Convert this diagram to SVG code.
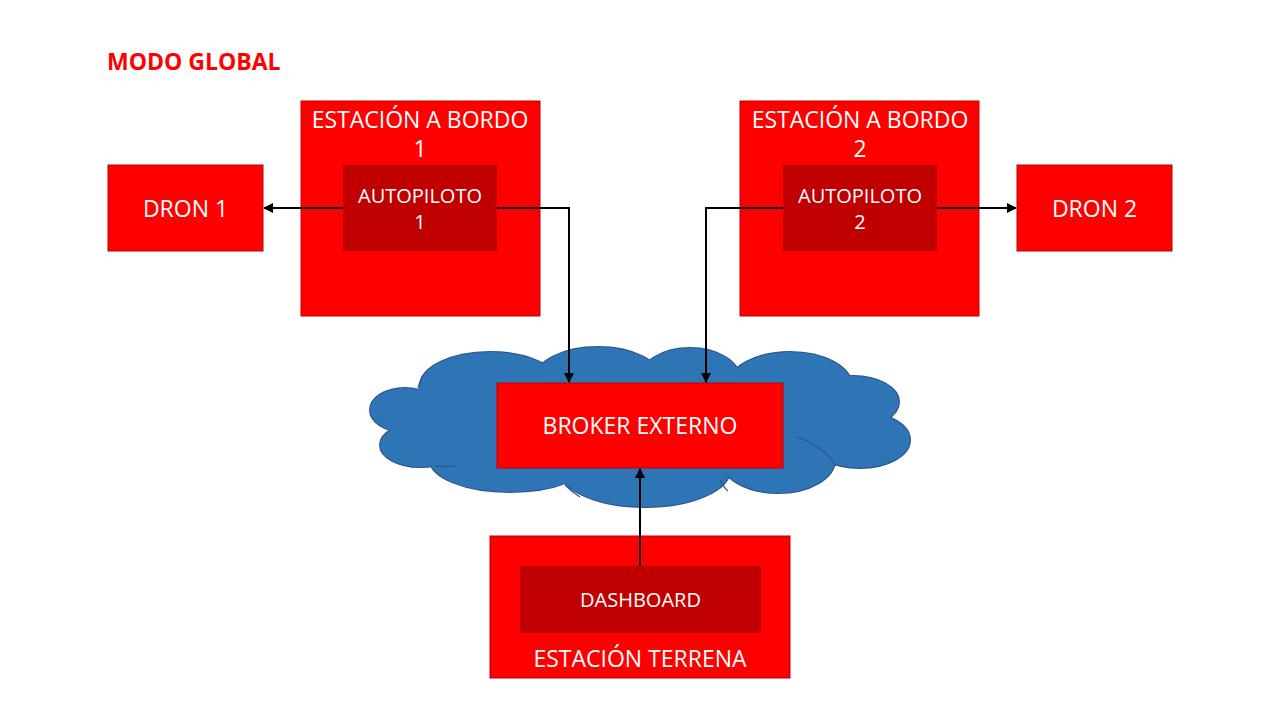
<svg xmlns="http://www.w3.org/2000/svg" width="1280" height="720" viewBox="0 0 1280 720">
<defs>
<style>
.box{fill:#FF0000;stroke:#C00000;stroke-width:1}
.inner{fill:#C00000;stroke:none}
.t{font-family:"Open Sans","Noto Sans",sans-serif;fill:#FFFFFF;text-anchor:middle}
.big{font-size:23px}
.mid{font-size:20px}
.conn{fill:none;stroke:#000000;stroke-width:2}
.cs{fill:#2E75B6;stroke:#2F528F;stroke-width:2}
.cf{fill:#2E75B6;stroke:none}
.ci{fill:none;stroke:#2F528F;stroke-width:1.2}
</style>
<marker id="arr" viewBox="0 0 10 10" refX="9" refY="5" markerWidth="5" markerHeight="5" orient="auto" markerUnits="strokeWidth">
<path d="M0,0 L10,5 L0,10 z" fill="#000000"/>
</marker>
</defs>
<rect width="1280" height="720" fill="#FFFFFF"/>
<text x="107" y="70" font-family="'Open Sans','Noto Sans',sans-serif" font-size="23" font-weight="bold" fill="#FF0000">MODO GLOBAL</text>

<g id="cloud">
<g>
<ellipse class="cs" cx="405" cy="410" rx="35" ry="22"/>
<ellipse class="cs" cx="490" cy="386" rx="70" ry="34"/>
<ellipse class="cs" cx="598" cy="379" rx="63" ry="32"/>
<ellipse class="cs" cx="690" cy="379" rx="50" ry="31"/>
<ellipse class="cs" cx="790" cy="386" rx="62" ry="34"/>
<ellipse class="cs" cx="853" cy="402" rx="46" ry="26"/>
<ellipse class="cs" cx="860" cy="440" rx="50" ry="28"/>
<ellipse class="cs" cx="778" cy="460" rx="57" ry="33"/>
<ellipse class="cs" cx="645" cy="470" rx="85" ry="37"/>
<ellipse class="cs" cx="510" cy="460" rx="80" ry="32"/>
<ellipse class="cs" cx="420" cy="445" rx="40" ry="22"/>
</g>
<g>
<ellipse class="cf" cx="405" cy="410" rx="35" ry="22"/>
<ellipse class="cf" cx="490" cy="386" rx="70" ry="34"/>
<ellipse class="cf" cx="598" cy="379" rx="63" ry="32"/>
<ellipse class="cf" cx="690" cy="379" rx="50" ry="31"/>
<ellipse class="cf" cx="790" cy="386" rx="62" ry="34"/>
<ellipse class="cf" cx="853" cy="402" rx="46" ry="26"/>
<ellipse class="cf" cx="860" cy="440" rx="50" ry="28"/>
<ellipse class="cf" cx="778" cy="460" rx="57" ry="33"/>
<ellipse class="cf" cx="645" cy="470" rx="85" ry="37"/>
<ellipse class="cf" cx="510" cy="460" rx="80" ry="32"/>
<ellipse class="cf" cx="420" cy="445" rx="40" ry="22"/>
<ellipse class="cf" cx="640" cy="425" rx="215" ry="48"/>
</g>
<path class="ci" d="M418,388 Q420,380 424,375"/>
<path class="ci" d="M797,437 Q825,447 836,466"/>
<path class="ci" d="M435,466 Q445,467 455,466"/>
<path class="ci" d="M565,485 Q572,492 580,497"/>
<path class="ci" d="M720,480 Q724,488 728,491"/>
</g>

<g id="estacion1">
<rect class="box" x="301" y="101" width="239" height="215"/>
<text class="t big" x="420" y="128">ESTACIÓN A BORDO</text>
<text class="t big" x="420" y="157">1</text>
</g>
<g id="autopiloto1">
<rect class="inner" x="343" y="165" width="154" height="86"/>
<text class="t mid" x="420" y="203">AUTOPILOTO</text>
<text class="t mid" x="420" y="229">1</text>
</g>
<g id="dron1">
<rect class="box" x="108" y="165" width="155" height="86"/>
<text class="t big" x="185.5" y="217">DRON 1</text>
</g>

<g id="estacion2">
<rect class="box" x="740" y="101" width="239" height="215"/>
<text class="t big" x="860" y="128">ESTACIÓN A BORDO</text>
<text class="t big" x="860" y="157">2</text>
</g>
<g id="autopiloto2">
<rect class="inner" x="783" y="165" width="154" height="86"/>
<text class="t mid" x="860" y="203">AUTOPILOTO</text>
<text class="t mid" x="860" y="229">2</text>
</g>
<g id="dron2">
<rect class="box" x="1017" y="165" width="155" height="86"/>
<text class="t big" x="1094.5" y="217">DRON 2</text>
</g>

<g id="broker">
<rect class="box" x="497" y="383" width="286" height="85"/>
<text class="t big" x="640" y="434">BROKER EXTERNO</text>
</g>

<g id="terrena">
<rect class="box" x="490" y="536" width="300" height="142"/>
<text class="t big" x="640" y="667">ESTACIÓN TERRENA</text>
</g>
<g id="dashboard">
<rect class="inner" x="520" y="566" width="241" height="67"/>
<text class="t mid" x="640.5" y="607">DASHBOARD</text>
</g>

<g id="connectors">
<path class="conn" d="M343,208 L264,208" marker-end="url(#arr)"/>
<path class="conn" d="M497,208 L569,208 L569,382" marker-end="url(#arr)"/>
<path class="conn" d="M783,208 L706,208 L706,382" marker-end="url(#arr)"/>
<path class="conn" d="M937,208 L1016,208" marker-end="url(#arr)"/>
<path class="conn" d="M640,566 L640,469" marker-end="url(#arr)"/>
</g>
</svg>
